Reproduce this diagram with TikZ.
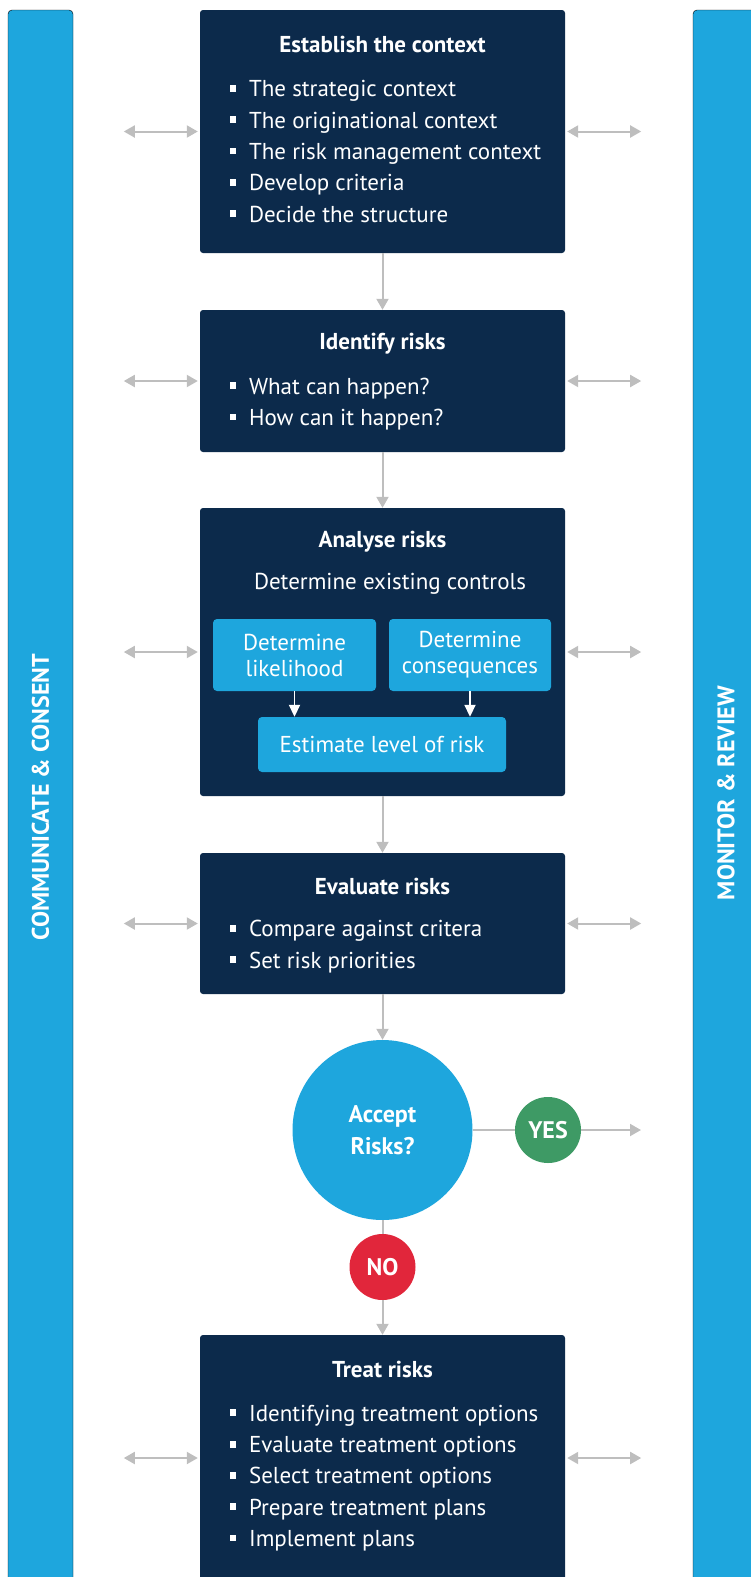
\documentclass[tikz,border=0pt]{standalone}
\usepackage{fontspec}
\setmainfont{PT Sans}
\usetikzlibrary{arrows.meta,positioning}

\definecolor{navy}{HTML}{0C2A4B}
\definecolor{skyblue}{HTML}{1EA6DD}
\definecolor{yesgreen}{HTML}{3E9A65}
\definecolor{nored}{HTML}{E1263B}
\definecolor{arrowgray}{HTML}{BEBEBE}

\newcommand{\sqbullet}{\rule[0.22em]{0.3em}{0.3em}\hspace{0.55em}}

\tikzset{
  stepbox/.style={fill=navy, rounded corners=3pt, inner sep=0pt},
  subbox/.style={fill=skyblue, rounded corners=4pt, text=white, align=center, inner sep=0pt, font=\fontsize{23}{26}\selectfont},
  bar/.style={fill=skyblue, rounded corners=4pt},
  flow/.style={draw=arrowgray, line width=2pt, -{Triangle[length=11pt,width=12pt]}},
  both/.style={draw=arrowgray, line width=2pt, {Triangle[length=11pt,width=12pt]}-{Triangle[length=11pt,width=12pt]}},
  inner/.style={draw=white, line width=1.8pt, -{Triangle[length=12pt,width=11pt]}},
  boxtitle/.style={text=white, font=\bfseries\fontsize{23}{26}\selectfont},
  bullets/.style={text=white, align=left, anchor=west, font=\fontsize{23}{31.3}\selectfont},
  decision/.style={circle, fill=#1, text=white, align=center, inner sep=0pt, font=\bfseries\fontsize{24}{32}\selectfont},
  sidelabel/.style={rotate=90, text=white, font=\bfseries\fontsize{24}{28}\selectfont},
}

\begin{document}
\begin{tikzpicture}[x=1pt, y=-1pt]
    \useasboundingbox (0,0) rectangle (750,1577);

    % Side bars
    \draw[bar] (8,10) rectangle (73,1600);
    \draw[bar] (693,10) rectangle (770,1600);
    \node[sidelabel] (communicate) at (40.5,797) {COMMUNICATE \& CONSENT};
    \node[sidelabel] (monitor) at (726,793) {MONITOR \& REVIEW};

    % Establish the context
    \node[stepbox, minimum width=365pt, minimum height=243pt] (context) at (382.5,131.5) {};
    \node[boxtitle] (contexttitle) at (382.5,44) {Establish the context};
    \node[bullets] (contextlist) at (226,151.5) {\sqbullet The strategic context\\ \sqbullet The originational context\\ \sqbullet The risk management context\\ \sqbullet Develop criteria\\ \sqbullet Decide the structure};

    % Identify risks
    \node[stepbox, minimum width=365pt, minimum height=142pt] (identify) at (382.5,381) {};
    \node[boxtitle] (identifytitle) at (382.5,344) {Identify risks};
    \node[bullets] (identifylist) at (226,404) {\sqbullet What can happen?\\ \sqbullet How can it happen?};

    % Analyse risks
    \node[stepbox, minimum width=365pt, minimum height=288pt] (analyse) at (382.5,652) {};
    \node[boxtitle] (analysetitle) at (382.5,542) {Analyse risks};
    \node[text=white, font=\fontsize{23}{26}\selectfont] (controls) at (390,584) {Determine existing controls};
    \node[subbox, minimum width=163pt, minimum height=72pt] (likelihood) at (294.5,655) {Determine\\likelihood};
    \node[subbox, minimum width=162pt, minimum height=72pt] (consequences) at (470,655) {Determine\\consequences};
    \node[subbox, minimum width=248pt, minimum height=55pt] (estimate) at (382,744.5) {Estimate level of risk};
    \draw[inner] (likelihood.south) -- (likelihood.south |- estimate.north);
    \draw[inner] (consequences.south) -- (consequences.south |- estimate.north);

    % Evaluate risks
    \node[stepbox, minimum width=365pt, minimum height=141pt] (evaluate) at (382.5,923.5) {};
    \node[boxtitle] (evaluatetitle) at (382.5,886) {Evaluate risks};
    \node[bullets] (evaluatelist) at (226,946.5) {\sqbullet Compare against critera\\ \sqbullet Set risk priorities};

    % Decision
    \node[decision=skyblue, minimum size=180pt] (accept) at (382.5,1130) {Accept\\Risks?};
    \node[decision=yesgreen, minimum size=66pt] (yes) at (548,1130) {YES};
    \node[decision=nored, minimum size=66pt] (no) at (382.5,1267) {NO};
    \coordinate (yesend) at (641,1130);

    % Treat risks
    \node[stepbox, minimum width=365pt, minimum height=246pt] (treat) at (382.5,1458) {};
    \node[boxtitle] (treattitle) at (382.5,1369) {Treat risks};
    \node[bullets] (treatlist) at (226,1478) {\sqbullet Identifying treatment options\\ \sqbullet Evaluate treatment options\\ \sqbullet Select treatment options\\ \sqbullet Prepare treatment plans\\ \sqbullet Implement plans};

    % Flow arrows
    \draw[flow] (context) -- (identify);
    \draw[flow] (identify) -- (analyse);
    \draw[flow] (analyse) -- (evaluate);
    \draw[flow] (evaluate) -- (accept);
    \draw[draw=arrowgray, line width=2pt] (accept.east) -- (yes.west);
    \draw[flow] (yes.east) -- (yesend);
    \draw[draw=arrowgray, line width=2pt] (accept.south) -- (no.north);
    \draw[flow] (no.south) -- (treat.north);

    % Side arrows
    \foreach \b in {context, identify, analyse, evaluate, treat} {
        \draw[both] ([xshift=-76pt]\b.west) -- ([xshift=-2pt]\b.west);
        \draw[both] ([xshift=2pt]\b.east) -- ([xshift=76pt]\b.east);
    }
\end{tikzpicture}
\end{document}
